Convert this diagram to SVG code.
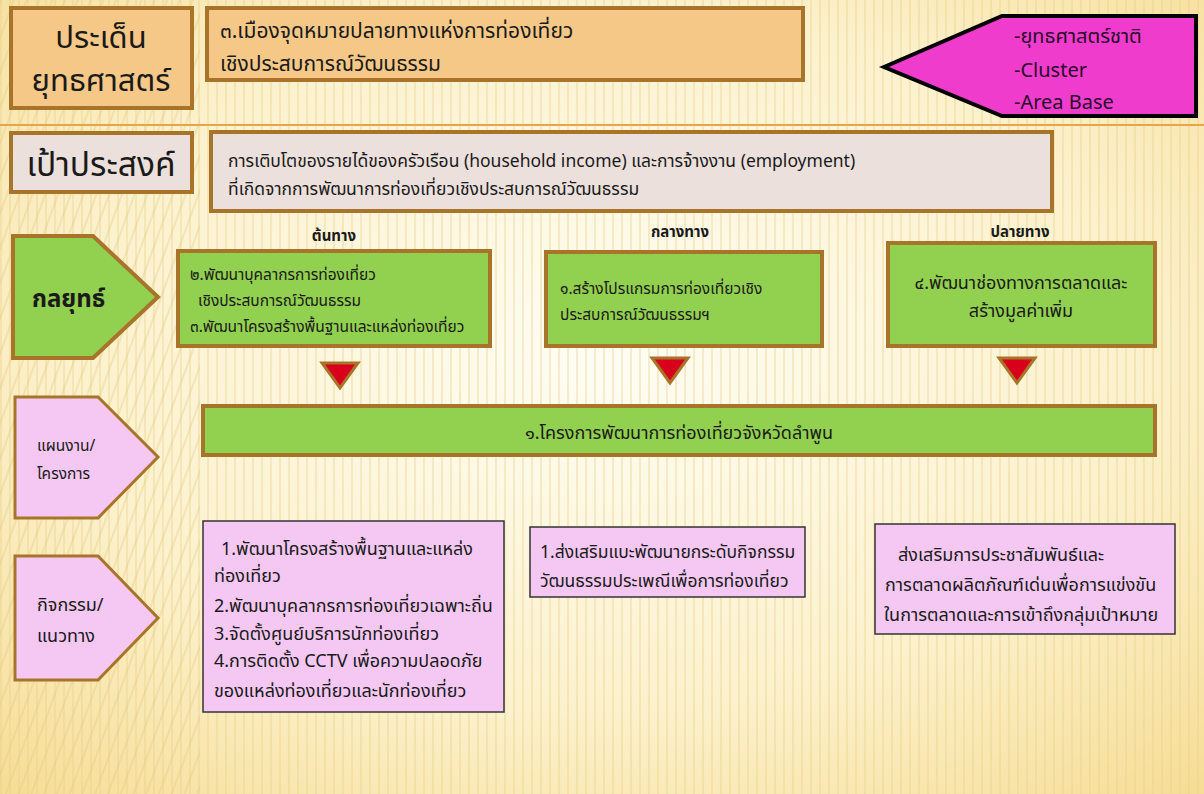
<svg xmlns="http://www.w3.org/2000/svg" width="1204" height="794" viewBox="0 0 1204 794">
<defs>
<radialGradient id="bg" cx="0.5" cy="0.45" r="0.75">
<stop offset="0" stop-color="#fffdf4"/>
<stop offset="0.6" stop-color="#fcf1cc"/>
<stop offset="1" stop-color="#f6dc93"/>
</radialGradient>
<pattern id="stripes" width="9" height="20" patternUnits="userSpaceOnUse">
<rect x="0" y="0" width="2" height="20" fill="#e8cf86" opacity="0.35"/>
</pattern>
<pattern id="diag" width="12" height="12" patternUnits="userSpaceOnUse" patternTransform="rotate(20)">
<rect x="0" y="0" width="2" height="12" fill="#e2c780" opacity="0.35"/>
</pattern>
</defs>
<style>
text{font-family:"Noto Sans Thai","Tahoma","DejaVu Sans","Liberation Sans",sans-serif;fill:#1a1a1a}
.orange{fill:#f6c887;stroke:#a8742a;stroke-width:4}
.grey{fill:#ece0dc;stroke:#a8742a;stroke-width:4}
.green{fill:#92d050;stroke:#a8742a;stroke-width:4}
.pinkp{fill:#f4c8f2;stroke:#a8742a;stroke-width:3}
.pinkb{fill:#f4c8f2;stroke:#333;stroke-width:1.5}
.tri{fill:#d9001b;stroke:#a8742a;stroke-width:3}
.t15{font-size:15.5px}
.t17{font-size:17.5px}
.t18{font-size:18px}
.t20{font-size:20px}
.mid{text-anchor:middle}
</style>
<rect width="1204" height="794" fill="url(#bg)"/>
<rect x="0" y="0" width="1204" height="794" fill="url(#stripes)"/>
<rect x="0" y="0" width="200" height="794" fill="url(#diag)"/>
<line x1="0" y1="125" x2="1204" y2="125" stroke="#e6a54a" stroke-width="2"/>

<g id="issue-label">
<rect class="orange" x="11" y="8" width="181" height="100"/>
<text class="mid" x="101" y="48" font-size="31">ประเด็น</text>
<text class="mid" x="101" y="91" font-size="31">ยุทธศาสตร์</text>
</g>
<g id="issue-text">
<rect class="orange" x="207" y="8" width="596" height="72"/>
<text x="220" y="38" font-size="21">๓.เมืองจุดหมายปลายทางแห่งการท่องเที่ยว</text>
<text x="220" y="71" font-size="21">เชิงประสบการณ์วัฒนธรรม</text>
</g>
<g id="national">
<path d="M884,67 L1002,16 L1196,16 L1196,116 L1002,116 Z" fill="#f03ccd" stroke="#000" stroke-width="4"/>
<text class="t20" x="1014" y="43" style="fill:#2a0a2a">-ยุทธศาสตร์ชาติ</text>
<text class="t20" x="1014" y="77" style="fill:#2a0a2a">-Cluster</text>
<text class="t20" x="1014" y="109" style="fill:#2a0a2a">-Area Base</text>
</g>

<g id="goal-label">
<rect class="grey" x="11" y="133" width="181" height="59"/>
<text class="mid" x="101" y="176" font-size="33.5">เป้าประสงค์</text>
</g>
<g id="goal-text">
<rect class="grey" x="211" y="132" width="841" height="79"/>
<text class="t17" x="228" y="167">การเติบโตของรายได้ของครัวเรือน (household income) และการจ้างงาน (employment)</text>
<text class="t17" x="228" y="195">ที่เกิดจากการพัฒนาการท่องเที่ยวเชิงประสบการณ์วัฒนธรรม</text>
</g>

<g id="strategy-label">
<path class="green" d="M13,236 L93,236 L158,297 L93,358 L13,358 Z"/>
<text x="32" y="307" font-size="24" font-weight="bold">กลยุทธ์</text>
</g>
<g id="strategy-1">
<text class="mid" x="334" y="241" font-size="15" font-weight="bold">ต้นทาง</text>
<rect class="green" x="178" y="251" width="312" height="95"/>
<text class="t15" x="190" y="280">๒.พัฒนาบุคลากรการท่องเที่ยว</text>
<text class="t15" x="198" y="306">เชิงประสบการณ์วัฒนธรรม</text>
<text class="t15" x="190" y="332">๓.พัฒนาโครงสร้างพื้นฐานและแหล่งท่องเที่ยว</text>
</g>
<g id="strategy-2">
<text class="mid" x="680" y="237" font-size="15" font-weight="bold">กลางทาง</text>
<rect class="green" x="546" y="252" width="276" height="94"/>
<text class="t15" x="560" y="294">๑.สร้างโปรแกรมการท่องเที่ยวเชิง</text>
<text class="t15" x="560" y="320">ประสบการณ์วัฒนธรรมฯ</text>
</g>
<g id="strategy-3">
<text class="mid" x="1020" y="237" font-size="15" font-weight="bold">ปลายทาง</text>
<rect class="green" x="888" y="243" width="267" height="103"/>
<text class="t18 mid" x="1021" y="289">๔.พัฒนาช่องทางการตลาดและ</text>
<text class="t18 mid" x="1021" y="317">สร้างมูลค่าเพิ่ม</text>
</g>

<g id="connectors">
<path class="tri" d="M322,363 L358,363 L340,388 Z"/>
<path class="tri" d="M652,358 L688,358 L670,383 Z"/>
<path class="tri" d="M999,358 L1035,358 L1017,383 Z"/>
</g>

<g id="plan-label">
<path class="pinkp" d="M15,397 L98,397 L158,457 L98,518 L15,518 Z"/>
<text x="37" y="451" font-size="15.5">แผนงาน/</text>
<text x="37" y="479" font-size="15.5">โครงการ</text>
</g>
<g id="plan">
<rect class="green" x="203" y="406" width="952" height="49"/>
<text class="t18 mid" x="679" y="439">๑.โครงการพัฒนาการท่องเที่ยวจังหวัดลำพูน</text>
</g>

<g id="activity-label">
<path class="pinkp" d="M15,556 L98,556 L158,618 L98,680 L15,680 Z"/>
<text class="t18" x="37" y="611">กิจกรรม/</text>
<text class="t18" x="37" y="642">แนวทาง</text>
</g>
<g id="activity-1">
<rect class="pinkb" x="203" y="521" width="301" height="191"/>
<text class="t18" x="221" y="555">1.พัฒนาโครงสร้างพื้นฐานและแหล่ง</text>
<text class="t18" x="214" y="582">ท่องเที่ยว</text>
<text class="t18" x="214" y="612">2.พัฒนาบุคลากรการท่องเที่ยวเฉพาะถิ่น</text>
<text class="t18" x="214" y="640">3.จัดตั้งศูนย์บริการนักท่องเที่ยว</text>
<text class="t18" x="214" y="667">4.การติดตั้ง CCTV เพื่อความปลอดภัย</text>
<text class="t18" x="214" y="697">ของแหล่งท่องเที่ยวและนักท่องเที่ยว</text>
</g>
<g id="activity-2">
<rect class="pinkb" x="530" y="527" width="275" height="70"/>
<text class="t17" x="540" y="558">1.ส่งเสริมแบะพัฒนายกระดับกิจกรรม</text>
<text class="t17" x="540" y="587">วัฒนธรรมประเพณีเพื่อการท่องเที่ยว</text>
</g>
<g id="activity-3">
<rect class="pinkb" x="875" y="524" width="300" height="110"/>
<text class="t18" x="898" y="561">ส่งเสริมการประชาสัมพันธ์และ</text>
<text class="t18" x="885" y="591">การตลาดผลิตภัณฑ์เด่นเพื่อการแข่งขัน</text>
<text class="t18" x="884" y="621">ในการตลาดและการเข้าถึงกลุ่มเป้าหมาย</text>
</g>
</svg>
